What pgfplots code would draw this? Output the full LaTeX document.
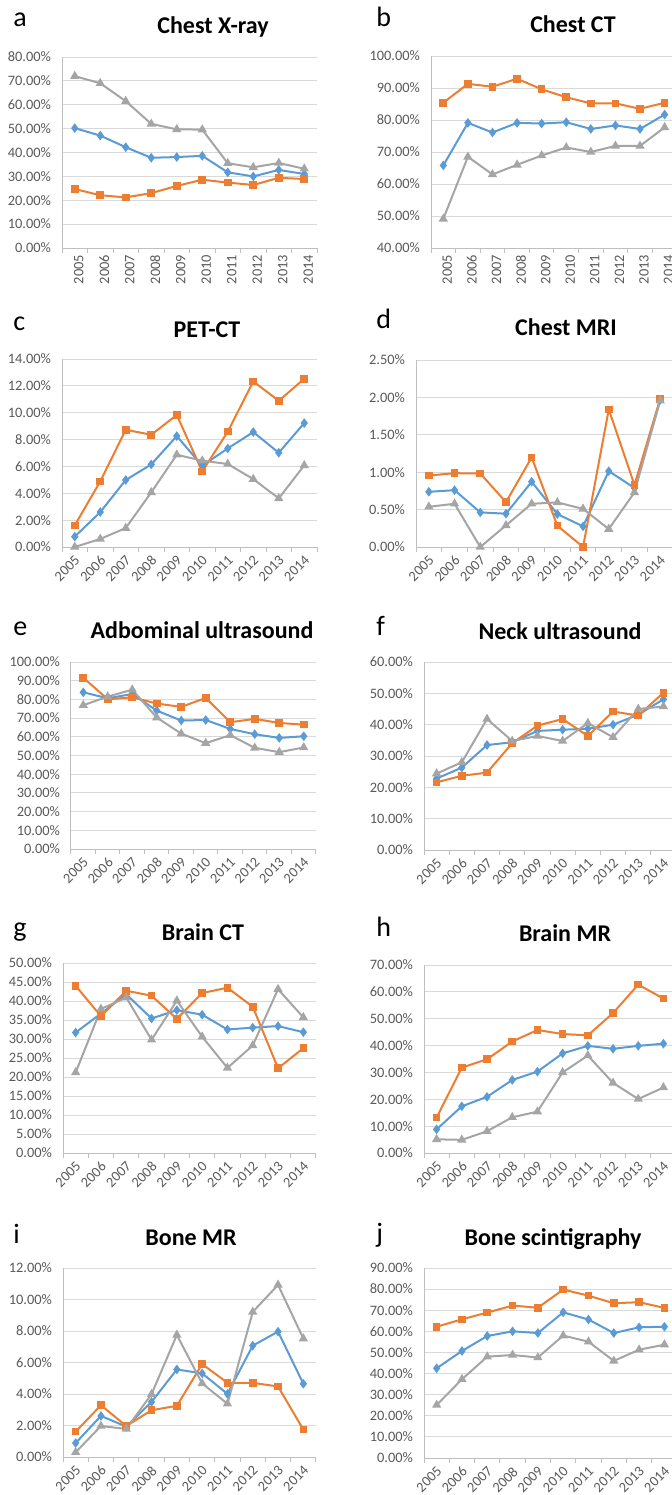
\documentclass[border=0pt]{standalone}
\usepackage{fontspec}
\setmainfont{Carlito}
\usepackage{pgfplots}
\pgfplotsset{compat=1.18}
\definecolor{cblue}{HTML}{5B9BD5}
\definecolor{corange}{HTML}{ED7D31}
\definecolor{cgray}{HTML}{A5A5A5}
\definecolor{gridc}{HTML}{D9D9D9}
\definecolor{axisc}{HTML}{BFBFBF}
\definecolor{labc}{HTML}{595959}
\pgfplotsset{
  panel/.style={
    scale only axis, clip=false,
    xmin=-0.5, xmax=9.5,
    xtick={0,...,9},
    xticklabels={2005,2006,2007,2008,2009,2010,2011,2012,2013,2014},
    minor xtick={-0.5,0.5,...,9.5},
    major tick length=0pt, minor tick length=2.5pt,
    tick align=outside, tick pos=left,
    tick style={draw=axisc, line width=0.5pt},
    axis x line*=bottom, axis y line*=left,
    axis line style={draw=axisc, line width=0.5pt, -},
    ymajorgrids, major grid style={draw=gridc, line width=0.5pt},
    scaled y ticks=false,
    yticklabel={\pgfmathprintnumber[fixed,fixed zerofill,precision=2,assume math mode=true]{\tick}\%},
    yticklabel style={font=\fontsize{7.2}{8}\selectfont, text=labc, xshift=-2pt},
    xticklabel style={font=\fontsize{7.2}{8}\selectfont, text=labc},
    every axis plot/.append style={line width=1pt},
    anchor=south west,
  },
  rot90/.style={xticklabel style={rotate=90, anchor=east, yshift=-2pt}},
  rot45/.style={xticklabel style={rotate=45, anchor=north east, xshift=0.5pt, yshift=1pt}},
  sblue/.style={color=cblue, mark=diamond*, mark size=1.6pt},
  sorange/.style={color=corange, mark=square*, mark size=1.4pt},
  sgray/.style={color=cgray, mark=triangle*, mark size=1.7pt},
}
\tikzset{
  ttl/.style={anchor=base, inner sep=0pt, font=\fontsize{12}{14}\selectfont\bfseries},
  lett/.style={anchor=base west, inner sep=0pt, font=\fontsize{14}{16}\selectfont},
}
\begin{document}
\begin{tikzpicture}
\useasboundingbox (0pt,0pt) rectangle (336pt,-747.5pt);
% ---- a
\node[lett] at (6.5pt,-13pt) {a};
\node[ttl] at (106.5pt,-16.5pt) {Chest X-ray};
\begin{axis}[panel, rot90, at={(31pt,-124pt)}, width=127.5pt, height=95.5pt,
  ymin=0, ymax=80, ytick={0,10,...,80}]
\addplot[sblue] coordinates {(0,50.2) (1,47.1) (2,42.2) (3,37.8) (4,38.1) (5,38.6) (6,31.7) (7,30.0) (8,32.7) (9,31.0)};
\addplot[sorange] coordinates {(0,24.7) (1,22.1) (2,21.2) (3,23.0) (4,26.0) (5,28.6) (6,27.4) (7,26.4) (8,29.4) (9,28.9)};
\addplot[sgray] coordinates {(0,72.0) (1,69.0) (2,61.5) (3,52.0) (4,49.7) (5,49.6) (6,35.5) (7,33.8) (8,35.6) (9,33.2)};
\end{axis}
% ---- b
\node[lett] at (188pt,-13pt) {b};
\node[ttl] at (286.5pt,-16pt) {Chest CT};
\begin{axis}[panel, rot90, at={(215.5pt,-124pt)}, width=120.5pt, height=96pt, xmax=9.3,
  ymin=40, ymax=100, ytick={40,50,...,100}]
\addplot[sblue] coordinates {(0,65.8) (1,79.1) (2,76.1) (3,79.1) (4,78.9) (5,79.3) (6,77.2) (7,78.3) (8,77.2) (9,81.7)};
\addplot[sorange] coordinates {(0,85.4) (1,91.3) (2,90.4) (3,92.9) (4,89.6) (5,87.1) (6,85.2) (7,85.2) (8,83.5) (9,85.4)};
\addplot[sgray] coordinates {(0,49.1) (1,68.5) (2,63.0) (3,66.0) (4,68.9) (5,71.4) (6,70.0) (7,71.9) (8,71.9) (9,77.7)};
\end{axis}
% ---- c
\node[lett] at (6.5pt,-165pt) {c};
\node[ttl] at (103.5pt,-168.5pt) {PET-CT};
\begin{axis}[panel, rot45, at={(31pt,-273.5pt)}, width=127.5pt, height=94pt,
  ymin=0, ymax=14, ytick={0,2,...,14}]
\addplot[sblue] coordinates {(0,0.77) (1,2.6) (2,4.99) (3,6.15) (4,8.26) (5,6.05) (6,7.34) (7,8.56) (8,7.02) (9,9.23)};
\addplot[sorange] coordinates {(0,1.61) (1,4.89) (2,8.73) (3,8.36) (4,9.83) (5,5.63) (6,8.59) (7,12.33) (8,10.89) (9,12.53)};
\addplot[sgray] coordinates {(0,0) (1,0.6) (2,1.41) (3,4.07) (4,6.87) (5,6.43) (6,6.18) (7,5.06) (8,3.62) (9,6.08)};
\end{axis}
% ---- d
\node[lett] at (188pt,-164pt) {d};
\node[ttl] at (283pt,-167.5pt) {Chest MRI};
\begin{axis}[panel, rot45, at={(208pt,-273.5pt)}, width=128pt, height=93.5pt, xmax=9.46,
  ymin=0, ymax=2.5, ytick={0,0.5,...,2.5}]
\addplot[sblue] coordinates {(0,0.738) (1,0.76) (2,0.463) (3,0.445) (4,0.872) (5,0.44) (6,0.276) (7,1.014) (8,0.79) (9,1.966)};
\addplot[sorange] coordinates {(0,0.956) (1,0.987) (2,0.983) (3,0.60) (4,1.197) (5,0.285) (6,0.0) (7,1.84) (8,0.83) (9,1.98)};
\addplot[sgray] coordinates {(0,0.538) (1,0.578) (2,0.0) (3,0.289) (4,0.578) (5,0.596) (6,0.51) (7,0.24) (8,0.73) (9,1.957)};
\end{axis}
% ---- e
\node[lett] at (6.5pt,-317.5pt) {e};
\node[ttl] at (101pt,-319pt) {Adbominal ultrasound};
\begin{axis}[panel, rot45, at={(35.5pt,-424.5pt)}, width=122.5pt, height=93.5pt,
  ymin=0, ymax=100, ytick={0,10,...,100}]
\addplot[sblue] coordinates {(0,83.8) (1,80.6) (2,82.9) (3,74.0) (4,68.7) (5,69.0) (6,64.2) (7,61.4) (8,59.4) (9,60.3)};
\addplot[sorange] coordinates {(0,91.6) (1,80.1) (2,81.1) (3,77.8) (4,76.0) (5,80.8) (6,67.8) (7,69.6) (8,67.4) (9,66.5)};
\addplot[sgray] coordinates {(0,76.9) (1,81.5) (2,85.2) (3,70.3) (4,61.7) (5,56.6) (6,60.9) (7,54.1) (8,51.8) (9,54.3)};
\end{axis}
% ---- f
\node[lett] at (188pt,-317.5pt) {f};
\node[ttl] at (280pt,-319.5pt) {Neck ultrasound};
\begin{axis}[panel, rot45, at={(212pt,-425pt)}, width=124pt, height=94pt, xmax=9.34,
  ymin=0, ymax=60, ytick={0,10,...,60}]
\addplot[sblue] coordinates {(0,22.8) (1,26.3) (2,33.5) (3,34.4) (4,38.0) (5,38.4) (6,38.7) (7,40.0) (8,43.2) (9,48.1)};
\addplot[sorange] coordinates {(0,21.6) (1,23.7) (2,24.7) (3,34.1) (4,39.7) (5,41.8) (6,36.4) (7,44.2) (8,42.9) (9,50.2)};
\addplot[sgray] coordinates {(0,24.4) (1,28.0) (2,41.8) (3,34.8) (4,36.4) (5,34.8) (6,40.5) (7,36.0) (8,45.0) (9,45.8)};
\end{axis}
% ---- g
\node[lett] at (6.5pt,-468pt) {g};
\node[ttl] at (101.5pt,-470pt) {Brain CT};
\begin{axis}[panel, rot45, at={(31.5pt,-576.5pt)}, width=126.5pt, height=95pt,
  ymin=0, ymax=50, ytick={0,5,...,50}]
\addplot[sblue] coordinates {(0,31.7) (1,36.7) (2,41.8) (3,35.4) (4,37.6) (5,36.4) (6,32.5) (7,33.0) (8,33.4) (9,31.8)};
\addplot[sorange] coordinates {(0,44.0) (1,36.0) (2,42.7) (3,41.4) (4,35.3) (5,42.1) (6,43.5) (7,38.5) (8,22.3) (9,27.6)};
\addplot[sgray] coordinates {(0,21.2) (1,37.9) (2,40.9) (3,29.8) (4,40.1) (5,30.6) (6,22.4) (7,28.3) (8,43.1) (9,35.7)};
\end{axis}
% ---- h
\node[lett] at (188pt,-468pt) {h};
\node[ttl] at (282.5pt,-470.5pt) {Brain MR};
\begin{axis}[panel, rot45, at={(212pt,-576.5pt)}, width=124pt, height=94pt, xmax=9.34,
  ymin=0, ymax=70, ytick={0,10,...,70}]
\addplot[sblue] coordinates {(0,8.8) (1,17.4) (2,20.9) (3,27.2) (4,30.3) (5,37.1) (6,39.9) (7,38.8) (8,39.9) (9,40.7)};
\addplot[sorange] coordinates {(0,13.2) (1,31.8) (2,34.9) (3,41.5) (4,45.8) (5,44.3) (6,43.8) (7,52.1) (8,62.7) (9,57.5)};
\addplot[sgray] coordinates {(0,5.1) (1,4.9) (2,8.1) (3,13.3) (4,15.4) (5,30.0) (6,36.3) (7,26.1) (8,20.1) (9,24.4)};
\end{axis}
% ---- i
\node[lett] at (6.5pt,-621.5pt) {i};
\node[ttl] at (95.5pt,-622.5pt) {Bone MR};
\begin{axis}[panel, rot45, at={(31.5pt,-728.5pt)}, width=126.5pt, height=94.5pt,
  ymin=0, ymax=12, ytick={0,2,...,12}]
\addplot[sblue] coordinates {(0,0.89) (1,2.61) (2,1.93) (3,3.5) (4,5.56) (5,5.31) (6,4.01) (7,7.07) (8,7.96) (9,4.65)};
\addplot[sorange] coordinates {(0,1.61) (1,3.29) (2,1.97) (3,2.97) (4,3.25) (5,5.9) (6,4.71) (7,4.71) (8,4.48) (9,1.74)};
\addplot[sgray] coordinates {(0,0.3) (1,1.97) (2,1.78) (3,3.99) (4,7.75) (5,4.67) (6,3.38) (7,9.21) (8,10.93) (9,7.52)};
\end{axis}
% ---- j
\node[lett] at (188pt,-621pt) {j};
\node[ttl] at (276.5pt,-622.5pt) {Bone scintigraphy};
\begin{axis}[panel, rot45, at={(212pt,-729pt)}, width=124pt, height=95pt, xmax=9.3,
  ymin=0, ymax=90, ytick={0,10,...,90}]
\addplot[sblue] coordinates {(0,42.5) (1,50.7) (2,57.8) (3,60.0) (4,59.2) (5,69.0) (6,65.6) (7,59.2) (8,61.9) (9,62.2)};
\addplot[sorange] coordinates {(0,62.2) (1,65.7) (2,68.9) (3,72.2) (4,71.2) (5,79.8) (6,76.9) (7,73.3) (8,73.8) (9,71.1)};
\addplot[sgray] coordinates {(0,25.1) (1,37.3) (2,48.0) (3,48.8) (4,47.6) (5,58.0) (6,55.1) (7,46.0) (8,51.3) (9,53.7)};
\end{axis}
\end{tikzpicture}
\end{document}
